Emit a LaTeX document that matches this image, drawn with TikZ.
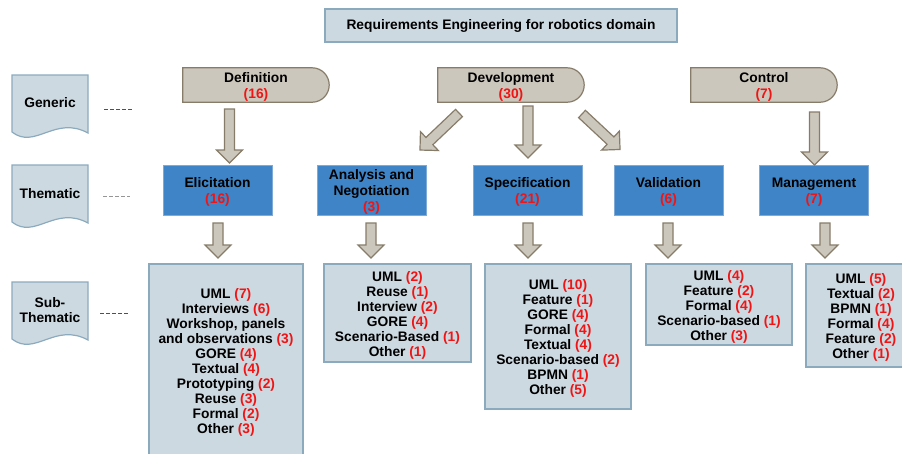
\documentclass[tikz,border=0pt]{standalone}
\usepackage{fontspec}
\setmainfont{Liberation Sans}
\usetikzlibrary{backgrounds}
\definecolor{paleblue}{RGB}{205,217,224}
\definecolor{paleedge}{RGB}{140,170,190}
\definecolor{tanfill}{RGB}{204,199,188}
\definecolor{tanedge}{RGB}{135,124,105}
\definecolor{midblue}{RGB}{62,132,198}
\definecolor{midedge}{RGB}{125,170,215}
\definecolor{numred}{RGB}{240,20,20}
\definecolor{dashdark}{RGB}{80,80,80}
\definecolor{dashlight}{RGB}{150,150,150}
\newcommand\nr[1]{\textcolor{numred}{(#1)}}
\newcommand\st{\rule{0pt}{14pt}}
\tikzset{
  txt/.style={font=\fontsize{13.8}{15}\selectfont\bfseries, text=black, align=center},
  titlebox/.style={txt, draw=paleedge, fill=paleblue, line width=1.4pt, inner sep=0pt},
  toptext/.style={font=\fontsize{13.8}{16}\selectfont\bfseries, align=center,
     minimum width=146pt, minimum height=34pt, inner sep=0pt},
  topst/.style={draw=tanedge, fill=tanfill, line width=1.2pt},
  thembox/.style={txt, font=\fontsize{13.8}{16}\selectfont\bfseries, draw=midedge, fill=midblue, line width=1pt,
     minimum width=109pt, minimum height=50pt, inner sep=0pt},
  subbox/.style={txt, draw=paleedge, fill=paleblue, line width=1.4pt, inner sep=0pt},
  docst/.style={draw=paleedge, fill=paleblue, line width=1.2pt},
  barrow/.style={draw=tanedge, fill=tanfill, line width=1.2pt, line join=miter},
  dashst/.style={line width=1pt, dash pattern=on 3.6pt off 2.5pt}
}
\newcommand\docshape[1]{%
  \draw[docst] (12,#1) -- (88,#1) -- (88,#1+58) .. controls (55,#1+40) and (35,#1+75) .. (12,#1+57) -- cycle;}
\newcommand\blockarr[3]{%
  \begin{scope}[shift={(#1)},rotate=#2]
    \draw[barrow] (0,5) -- ({#3-13},5) -- ({#3-13},13) -- (#3,0) -- ({#3-13},-13) -- ({#3-13},-5) -- (0,-5) -- cycle;
  \end{scope}}
\newcommand\delayshape[1]{%
  \draw[topst] (#1.north west) -- ([xshift=-17pt]#1.north east)
    .. controls ([xshift=-7.6pt]#1.north east) and ([yshift=9.4pt]#1.east) .. (#1.east)
    .. controls ([yshift=-9.4pt]#1.east) and ([xshift=-7.6pt]#1.south east) .. ([xshift=-17pt]#1.south east)
    -- (#1.south west) -- cycle;}
\begin{document}
\begin{tikzpicture}[x=1pt,y=-1pt]
\useasboundingbox (0,0) rectangle (902,453);
\begin{scope}[on background layer]
\fill[white] (0,0) rectangle (902,453);
\end{scope}

% title
\node[titlebox, minimum width=352pt, minimum height=33pt] (title) at (501,25.5) {Requirements Engineering for robotics domain};

% level documents
\docshape{75}
\docshape{165}
\docshape{282}
\node[txt] (gen) at (50,103) {Generic};
\node[txt] (them) at (50,193.5) {Thematic};
\node[txt] (subt) at (50,310.5) {Sub-\\Thematic};

\coordinate (g1) at (104,109.5); \coordinate (g2) at (132,109.5);
\coordinate (t1) at (103,196.5); \coordinate (t2) at (130,196.5);
\coordinate (s1) at (100,313);   \coordinate (s2) at (128,313);
\draw[dashst, dashdark] (g1) -- (g2);
\draw[dashst, dashlight] (t1) -- (t2);
\draw[dashst, dashdark] (s1) -- (s2);

% generic level
\node[toptext] (def) at (256,85) {\st Definition\\\nr{16}};
\node[toptext] (dev) at (511,85) {\st Development\\\nr{30}};
\node[toptext] (ctl) at (764,85) {\st Control\\\nr{7}};
\begin{scope}[on background layer]
\delayshape{def}
\delayshape{dev}
\delayshape{ctl}
\end{scope}

% thematic level
\node[thembox] (eli) at (217.5,190) {\st Elicitation\\\nr{16}};
\node[thembox] (ana) at (371.5,190) {\st Analysis and\\Negotiation\\\nr{3}};
\node[thembox] (spe) at (527.5,190) {\st Specification\\\nr{21}};
\node[thembox] (val) at (668.5,190) {\st Validation\\\nr{6}};
\node[thembox] (man) at (814,190) {\st Management\\\nr{7}};

% sub-thematic level
\node[subbox, minimum width=154pt, minimum height=193pt] (eliS) at (226,360.5)
  {\st UML \nr{7}\\Interviews \nr{6}\\Workshop, panels\\and observations \nr{3}\\GORE \nr{4}\\Textual \nr{4}\\Prototyping \nr{2}\\Reuse \nr{3}\\Formal \nr{2}\\Other \nr{3}};
\node[subbox, minimum width=147pt, minimum height=98pt] (anaS) at (397.5,313)
  {\st UML \nr{2}\\Reuse \nr{1}\\Interview \nr{2}\\GORE \nr{4}\\Scenario-Based \nr{1}\\Other \nr{1}};
\node[subbox, minimum width=146pt, minimum height=145pt] (speS) at (558,336.5)
  {\st UML \nr{10}\\Feature \nr{1}\\GORE \nr{4}\\Formal \nr{4}\\Textual \nr{4}\\Scenario-based \nr{2}\\BPMN \nr{1}\\Other \nr{5}};
\node[subbox, minimum width=146pt, minimum height=81pt] (valS) at (719,304.5)
  {\st UML \nr{4}\\Feature \nr{2}\\Formal \nr{4}\\Scenario-based \nr{1}\\Other \nr{3}};
\node[subbox, minimum width=110pt, minimum height=103pt] (manS) at (861,315.5)
  {\st UML \nr{5}\\Textual \nr{2}\\BPMN \nr{1}\\Formal \nr{4}\\Feature \nr{2}\\Other \nr{1}};

% block arrows: generic -> thematic
\coordinate (a1) at (229.5,109);
\coordinate (a2) at (459,113);
\coordinate (a3) at (528,106);
\coordinate (a4) at (582,114);
\coordinate (a5) at (814.5,112);
\blockarr{a1}{-90}{54}
\blockarr{a2}{-136.5}{53.8}
\blockarr{a3}{-90}{52}
\blockarr{a4}{-43}{52}
\blockarr{a5}{-90}{53}

% block arrows: thematic -> sub-thematic
\coordinate (b1) at (218,223);
\coordinate (b2) at (371,223);
\coordinate (b3) at (528,223);
\coordinate (b4) at (668,223);
\coordinate (b5) at (825,223);
\foreach \c in {b1,b2,b3,b4,b5} {\blockarr{\c}{-90}{35}}
\end{tikzpicture}
\end{document}
